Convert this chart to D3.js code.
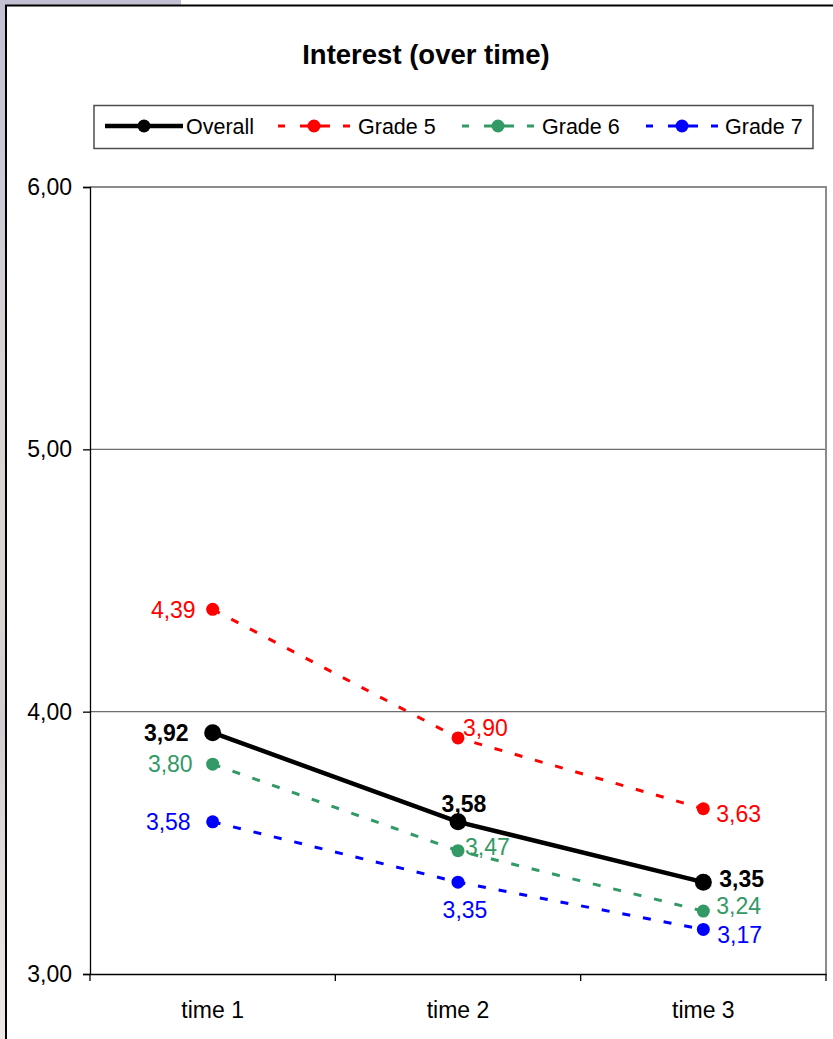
<!DOCTYPE html>
<html>
<head>
<meta charset="utf-8">
<script src="https://cdn.jsdelivr.net/npm/d3@7"></script>
<style>
  html, body { margin: 0; padding: 0; background: #ffffff; }
  svg { display: block; font-family: "Liberation Sans", Arial, sans-serif; }
</style>
</head>
<body>
<svg id="chart" width="833" height="1039"></svg>
<script>
// Interest scores per measurement moment
const times = ["time 1", "time 2", "time 3"];
const overall = [3.92, 3.58, 3.35];
const grade5 = [4.39, 3.90, 3.63];
const grade6 = [3.80, 3.47, 3.24];
const grade7 = [3.58, 3.35, 3.17];
const yTicks = [3, 4, 5, 6];
const seriesNames = ["Overall", "Grade 5", "Grade 6", "Grade 7"];

const fmt = v => d3.format(".2f")(v).replace(".", ",");

const svg = d3.select("#chart");
const W = 833, H = 1039;

// Window backdrop around the chart sheet
const defs = svg.append("defs");
const grad = defs.append("linearGradient").attr("id", "side").attr("x1", 0).attr("y1", 0).attr("x2", 0).attr("y2", 1);
[["0%", "#c3c0d3"], ["20%", "#cfcbd6"], ["35%", "#d8d3d4"], ["55%", "#dcd6d2"], ["70%", "#d2ccd2"], ["85%", "#e2dddb"], ["100%", "#ece8e6"]]
  .forEach(([o, c]) => grad.append("stop").attr("offset", o).attr("stop-color", c));
svg.append("rect").attr("x", 0).attr("y", 0).attr("width", 7).attr("height", H).attr("fill", "url(#side)");
svg.append("rect").attr("x", 0).attr("y", 0).attr("width", 181).attr("height", 5).attr("fill", "#c3c0d3");

// Chart sheet
svg.append("rect").attr("x", 6).attr("y", 5).attr("width", W).attr("height", H).attr("fill", "#ffffff");
svg.append("path").attr("d", `M6,${H} V5.5 H${W}`).attr("fill", "none").attr("stroke", "#000").attr("stroke-width", 2);

// Title
svg.append("text").attr("x", 426).attr("y", 64).attr("text-anchor", "middle")
  .attr("font-size", 27.5).attr("font-weight", "bold").attr("fill", "#000")
  .text("Interest (over time)");

// Plot area
const plotLeft = 90, plotRight = 826, plotTop = 187, plotBottom = 974;
const x = d3.scaleBand().domain(times).range([plotLeft, plotRight]).padding(0);
const y = d3.scaleLinear().domain([3, 6]).range([plotBottom, plotTop]);
const cx = t => x(t) + x.bandwidth() / 2;

// Gridlines
svg.append("g").selectAll("line").data(yTicks.filter(v => v > 3 && v < 6)).join("line")
  .attr("x1", plotLeft).attr("x2", plotRight).attr("y1", d => y(d)).attr("y2", d => y(d))
  .attr("stroke", "#6e6e6e").attr("stroke-width", 1.3);
// Plot frame (top and right)
svg.append("path").attr("d", `M${plotLeft},${y(6)} H${plotRight} V${plotBottom}`)
  .attr("fill", "none").attr("stroke", "#8c8c8c").attr("stroke-width", 2);

// Y axis
const yAxis = d3.axisLeft(y).tickValues(yTicks).tickSize(7).tickPadding(11).tickFormat(fmt);
const gy = svg.append("g").attr("transform", `translate(${plotLeft},0)`).call(yAxis);
gy.select(".domain").attr("stroke", "#000").attr("stroke-width", 1.3);
gy.selectAll(".tick line").attr("stroke", "#000").attr("stroke-width", 1.3);
gy.selectAll(".tick text").attr("font-size", 23).attr("fill", "#000").attr("font-family", "Liberation Sans, Arial, sans-serif");

// X axis
const xAxis = d3.axisBottom(x).tickSize(0).tickPadding(28);
const gx = svg.append("g").attr("transform", `translate(0,${plotBottom})`).call(xAxis);
gx.select(".domain").attr("stroke", "#000").attr("stroke-width", 1.3);
gx.selectAll(".tick text").attr("font-size", 23).attr("fill", "#000").attr("font-family", "Liberation Sans, Arial, sans-serif");
// category separators below the axis
const bounds = [...times.map(t => x(t)), plotRight];
svg.append("g").selectAll("line").data(bounds).join("line")
  .attr("x1", d => d).attr("x2", d => d).attr("y1", plotBottom).attr("y2", plotBottom + 7)
  .attr("stroke", "#000").attr("stroke-width", 1.3);

// Series
const series = [
  { name: "Grade 5", values: grade5, color: "#ff0000", dash: "8,13", width: 3, r: 6.5 },
  { name: "Grade 6", values: grade6, color: "#339966", dash: "8,13", width: 3, r: 6.5 },
  { name: "Grade 7", values: grade7, color: "#0000ff", dash: "8,13", width: 3, r: 6.5 },
  { name: "Overall", values: overall, color: "#000000", dash: null, width: 4.5, r: 8.5, bold: true }
];

const line = d3.line().x((d, i) => cx(times[i])).y(d => y(d));
series.forEach(s => {
  svg.append("path").datum(s.values).attr("d", line)
    .attr("fill", "none").attr("stroke", s.color).attr("stroke-width", s.width)
    .attr("stroke-dasharray", s.dash);
  svg.append("g").selectAll("circle").data(s.values).join("circle")
    .attr("cx", (d, i) => cx(times[i])).attr("cy", d => y(d)).attr("r", s.r).attr("fill", s.color);
});

// Data label placement per series and time: [dx, dy, anchor]
const labelPos = {
  "Overall": [[-24, 0, "end"], [6, -18, "middle"], [16, -3, "start"]],
  "Grade 5": [[-17, 0, "end"], [5, -10, "start"], [13, 5, "start"]],
  "Grade 6": [[-20, 0, "end"], [7, -4, "start"], [13, -5, "start"]],
  "Grade 7": [[-22, 0, "end"], [7, 28, "middle"], [14, 5, "start"]]
};
series.forEach(s => {
  svg.append("g").selectAll("text").data(s.values).join("text")
    .attr("x", (d, i) => cx(times[i]) + labelPos[s.name][i][0])
    .attr("y", (d, i) => y(d) + labelPos[s.name][i][1])
    .attr("dy", "0.36em")
    .attr("text-anchor", (d, i) => labelPos[s.name][i][2])
    .attr("font-size", 23).attr("font-weight", s.bold ? "bold" : "normal")
    .attr("fill", s.color).text(fmt);
});

// Legend
const legend = svg.append("g");
legend.append("rect").attr("x", 94).attr("y", 105.5).attr("width", 719).attr("height", 43)
  .attr("fill", "#fff").attr("stroke", "#4d4d4d").attr("stroke-width", 1.5);
const legendItems = [
  { name: "Overall", color: "#000000", dash: null, width: 4.5, x0: 105, x1: 183, tx: 186 },
  { name: "Grade 5", color: "#ff0000", dash: "7,15,30,13,7", width: 3, x0: 278, x1: 350, tx: 358 },
  { name: "Grade 6", color: "#339966", dash: "7,15,30,13,7", width: 3, x0: 462, x1: 534, tx: 542 },
  { name: "Grade 7", color: "#0000ff", dash: "7,15,30,13,7", width: 3, x0: 646, x1: 718, tx: 725 }
];
const ly = 126;
legendItems.forEach(it => {
  legend.append("line").attr("x1", it.x0).attr("x2", it.x1).attr("y1", ly).attr("y2", ly)
    .attr("stroke", it.color).attr("stroke-width", it.width).attr("stroke-dasharray", it.dash);
  legend.append("circle").attr("cx", (it.x0 + it.x1) / 2).attr("cy", ly).attr("r", 6.5).attr("fill", it.color);
  legend.append("text").attr("x", it.tx).attr("y", ly).attr("dy", "0.36em")
    .attr("font-size", 21.5).attr("fill", "#000").text(it.name);
});
</script>
</body>
</html>
